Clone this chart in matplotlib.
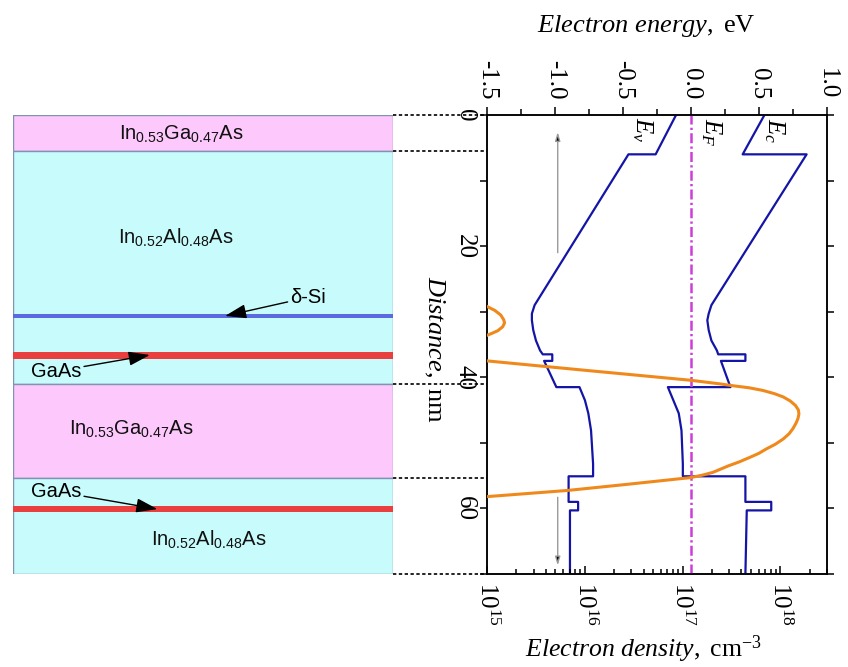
import numpy as np
import matplotlib
matplotlib.use("Agg")
import matplotlib.pyplot as plt
from matplotlib.patches import Rectangle
from matplotlib.ticker import MultipleLocator, LogLocator, NullFormatter
from matplotlib.transforms import blended_transform_factory

plt.rcParams['font.family'] = ['Liberation Serif', 'DejaVu Serif']
plt.rcParams['mathtext.fontset'] = 'custom'
plt.rcParams['mathtext.rm'] = 'Liberation Serif'
plt.rcParams['mathtext.it'] = 'Liberation Serif:italic'
plt.rcParams['mathtext.sf'] = 'Liberation Sans'
plt.rcParams['axes.unicode_minus'] = False

# ---- band edges (distance in nm, energy in eV) ----
band_dist = [0, 6.0, 6.0, 29.0, 30.3, 31.3, 32.8, 34.4, 35.9, 36.5, 36.5, 37.5, 37.5,
             41.5, 41.5, 43.5, 45.5, 48.1, 53.2, 55.1, 55.1, 59.0, 59.0, 60.3, 60.3, 70]
ec_energy = [0.54, 0.38, 0.85, 0.15, 0.13, 0.12, 0.13, 0.15, 0.19, 0.20, 0.40, 0.40, 0.22,
             0.29, -0.17, -0.13, -0.09, -0.07, -0.06, -0.06, 0.40, 0.40, 0.59, 0.59, 0.41, 0.40]
ev_energy = [-0.11, -0.26, -0.46, -1.15, -1.17, -1.17, -1.16, -1.14, -1.11, -1.09, -1.02, -1.02, -1.08,
             -0.99, -0.82, -0.78, -0.755, -0.735, -0.72, -0.72, -0.90, -0.90, -0.83, -0.83, -0.89, -0.89]
fermi_level = 0.0

# ---- electron density (log10 of cm^-3) ----
bump_dist = [29.2, 29.8, 30.5, 31.2, 31.7, 32.3, 32.9, 33.3, 33.6]
bump_exp = [15.0, 15.08, 15.14, 15.17, 15.18, 15.16, 15.11, 15.05, 15.0]
well_dist = [37.5, 39.0, 40.45, 41.0, 41.3, 41.6, 42.0, 42.5, 43.0, 43.6, 44.3, 45.0, 45.6,
             46.3, 47.0, 47.8, 48.6, 49.4, 50.2, 50.9, 51.6, 52.2, 52.9, 53.5, 54.0, 54.5,
             54.9, 55.3, 56.3, 57.25, 58.2]
well_exp = [15.0, 16.05, 17.08, 17.38, 17.52, 17.68, 17.82, 17.94, 18.03, 18.10, 18.155, 18.185,
            18.19, 18.18, 18.16, 18.13, 18.09, 18.03, 17.95, 17.86, 17.78, 17.69, 17.58, 17.47,
            17.39, 17.31, 17.21, 17.08, 16.45, 15.83, 15.0]

# ---- layer stack ----
layer_start = [0, 5.5, 41.0, 55.4]
layer_end = [5.5, 41.0, 55.4, 70]
layer_kind = ['InGaAs', 'InAlAs', 'InGaAs', 'InAlAs']
thin_start = [30.3, 36.1, 59.6]
thin_end = [31.0, 37.2, 60.6]
thin_kind = ['Si', 'GaAs', 'GaAs']
boundaries = [0, 5.5, 41.0, 55.4, 70]

fill = {'InGaAs': '#fdc8fb', 'InAlAs': '#c8fbfb', 'Si': '#5a6be0', 'GaAs': '#ea3f3f'}

fig = plt.figure(figsize=(8.48, 6.67), dpi=100)
W, H = 848, 667
bot = (H - 574) / H
hgt = (574 - 115) / H

# layer schematic
axl = fig.add_axes([13 / W, bot, (393 - 13) / W, hgt])
axl.set_xlim(0, 1)
axl.set_ylim(70, 0)
axl.axis('off')
for s, e, k in zip(layer_start, layer_end, layer_kind):
    axl.add_patch(Rectangle((0, s), 1, e - s, facecolor=fill[k], edgecolor='#7f93b3', lw=1.0))
for s, e, k in zip(thin_start, thin_end, thin_kind):
    axl.add_patch(Rectangle((0, s), 1, e - s, facecolor=fill[k], edgecolor='none'))

lab = dict(family='Liberation Sans', fontsize=14.5, va='baseline', ha='center', color='#111111')
ingaas = r'In$_{\mathsf{0.53}}$Ga$_{\mathsf{0.47}}$As'
inalas = r'In$_{\mathsf{0.52}}$Al$_{\mathsf{0.48}}$As'
axl.text(0.442, 3.7, ingaas, **lab)
axl.text(0.429, 19.5, inalas, **lab)
axl.text(0.312, 48.7, ingaas, **lab)
axl.text(0.516, 65.6, inalas, **lab)

arr = dict(arrowstyle='-|>,head_length=0.9,head_width=0.3', color='black', lw=1.0,
           shrinkA=0, shrinkB=0)
axl.annotate('δ-Si', xy=(0.558, 30.65), xytext=(0.73, 27.8), family='Liberation Sans',
             fontsize=14.5, va='center', ha='left', arrowprops=arr)
axl.annotate('GaAs', xy=(0.36, 36.6), xytext=(0.047, 39.1), family='Liberation Sans',
             fontsize=14.5, va='center', ha='left', arrowprops=arr)
axl.annotate('GaAs', xy=(0.38, 60.1), xytext=(0.047, 57.4), family='Liberation Sans',
             fontsize=14.5, va='center', ha='left', arrowprops=arr)

# band diagram
axe = fig.add_axes([487 / W, bot, (827 - 487) / W, hgt])
axn = axe.twiny()

axe.plot(ec_energy, band_dist, color='#1414a6', lw=1.6, zorder=3)
axe.plot(ev_energy, band_dist, color='#1414a6', lw=1.6, zorder=3)
axe.axvline(fermi_level, color='#cc3fd6', lw=1.8, ls=(0, (4, 1.3, 0.9, 1.3)), zorder=4)

axn.plot(10 ** np.array(bump_exp), bump_dist, color='#f0891c', lw=2.2, zorder=5)
axn.plot(10 ** np.array(well_exp), well_dist, color='#f0891c', lw=2.2, zorder=5)
axn.set_xscale('log')
axn.set_xlim(1e15, 3e18)

axe.set_xlim(-1.5, 1.0)
axe.set_ylim(70, 0)

garr = dict(arrowstyle='-|>,head_length=0.5,head_width=0.15', ec='#9a9a9a', fc='black',
            lw=1.0, shrinkA=0, shrinkB=0)
axe.annotate('', xy=(-0.98, 2.6), xytext=(-0.98, 21.0), arrowprops=garr)
axe.annotate('', xy=(-0.98, 68.7), xytext=(-0.98, 58.3), arrowprops=garr)

tl = dict(rotation=270, fontsize=18, ha='center', va='center')
axe.text(-0.36, 2.3, r'$E_v$', **tl)
axe.text(0.15, 2.7, r'$E_F$', **tl)
axe.text(0.61, 2.4, r'$E_c$', **tl)

# energy axis on top
axe.xaxis.tick_top()
axe.xaxis.set_label_position('top')
axe.xaxis.set_major_locator(MultipleLocator(0.5))
axe.xaxis.set_minor_locator(MultipleLocator(0.25))
axe.tick_params(axis='x', which='both', direction='out', labelsize=18, labelrotation=270, pad=5)
axe.tick_params(axis='x', which='major', length=6, width=1.1)
axe.tick_params(axis='x', which='minor', length=4, width=1.1)
axe.set_xlabel(r'$\mathit{Electron\ energy,}$ eV', fontsize=19)
axe.xaxis.label.set_va('bottom')
axe.xaxis.set_label_coords(0.47, 1.166)

# distance axis on the left
axe.yaxis.set_major_locator(MultipleLocator(20))
axe.yaxis.set_minor_locator(MultipleLocator(10))
axe.tick_params(axis='y', which='both', direction='out', left=True, right=True,
                length=5, width=1.1, labelsize=18, pad=3)
for t in axe.get_yticklabels():
    t.set_rotation(270)
    t.set_va('center')
axe.set_ylabel(r'$\mathit{Distance,}$ nm', fontsize=19, rotation=270)
axe.yaxis.set_label_coords(-0.19, 0.49)

# density axis on the bottom
axn.xaxis.tick_bottom()
axn.xaxis.set_label_position('bottom')
axn.xaxis.set_major_locator(LogLocator(base=10, numticks=10))
axn.xaxis.set_minor_locator(LogLocator(base=10, subs=np.arange(2, 10), numticks=20))
axn.xaxis.set_minor_formatter(NullFormatter())
axn.tick_params(axis='x', which='both', direction='in', labelsize=18, labelrotation=270, pad=6)
axn.tick_params(axis='x', which='major', length=6, width=1.1)
axn.tick_params(axis='x', which='minor', length=3.5, width=1.1)
axn.set_xlabel(r'$\mathit{Electron\ density,}$ cm$^{-3}$', fontsize=18.5)
axn.xaxis.label.set_va('top')
axn.xaxis.set_label_coords(0.46, -0.129)

for a in (axe, axn):
    for sp in a.spines.values():
        sp.set_linewidth(1.1)

# dotted guides from the layer stack to the band diagram
tr = blended_transform_factory(fig.transFigure, axe.transData)
x0 = axl.get_position().x1
x1 = axe.get_position().x0
for b in boundaries:
    fig.lines.append(plt.Line2D([x0, x1], [b, b], transform=tr, color='black', lw=1.2,
                                ls=(0, (2, 1.5)), zorder=0))

fig.savefig('out.png', dpi=100)
